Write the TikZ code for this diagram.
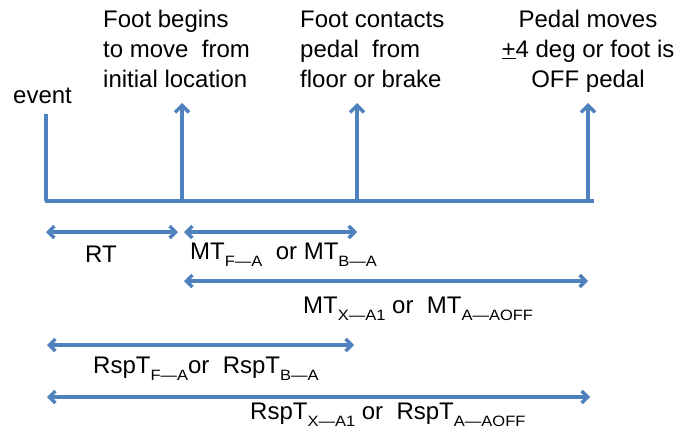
\documentclass[tikz,border=0pt]{standalone}
\usepackage{fontspec}
\usepackage{graphicx}
\setmainfont{Liberation Sans}
\usetikzlibrary{arrows.meta}

\definecolor{lineblue}{RGB}{79,129,189}

% lowered, smaller index text (e.g. MT with F—A below)
\newcommand{\lowidx}[1]{\raisebox{-7pt}{\fontsize{15}{15}\selectfont\scalebox{1.1}[1]{#1}}}

\begin{document}
\begin{tikzpicture}[x=1pt,y=-1pt,
  tline/.style={draw=lineblue,line width=3.2pt},
  uparrow/.style={tline,-{Straight Barb[length=7pt,width=14pt,line width=3.4pt]}},
  span/.style={tline,{Straight Barb[length=6pt,width=12pt,line width=3.4pt]}-{Straight Barb[length=6pt,width=12pt,line width=3.4pt]}},
  lbl/.style={inner sep=0pt,font=\fontsize{24}{30}\selectfont},
  block/.style={lbl,align=left,anchor=base west}]
\useasboundingbox (0,0) rectangle (680,431);

% time axis and event markers
\coordinate (a0) at (45,201);
\coordinate (a1) at (594,201);
\coordinate (ev0) at (46,201);
\coordinate (ev1) at (46,114);
\coordinate (m1) at (182,201);
\coordinate (m1t) at (182,103);
\coordinate (m2) at (357,201);
\coordinate (m2t) at (357,103);
\coordinate (m3) at (588,201);
\coordinate (m3t) at (588,103);

\draw[tline] (a0) -- (a1);
\draw[tline] (ev0) -- (ev1);
\draw[uparrow] (m1) -- (m1t);
\draw[uparrow] (m2) -- (m2t);
\draw[uparrow] (m3) -- (m3t);

% event descriptions (anchored at the baseline of their last line)
\node[lbl,anchor=base west] (tEvent) at (13,103) {event};
\node[block] (tBegin) at (103,87) {Foot begins\\to move\ \ from\\initial location};
\node[block] (tContact) at (300,87) {Foot contacts\\pedal\ \ from\\floor or brake};
\node[lbl,align=center,anchor=base] (tPedal) at (588,87) {Pedal moves\\\underline{+}4 deg or foot is\\OFF pedal};

% interval spans
\coordinate (rtA) at (46,232);  \coordinate (rtB) at (178,232);
\coordinate (mtA) at (184,232); \coordinate (mtB) at (357,232);
\coordinate (mxA) at (184,281); \coordinate (mxB) at (588,281);
\coordinate (rsA) at (47,345);  \coordinate (rsB) at (354,345);
\coordinate (rxA) at (47,397);  \coordinate (rxB) at (590,397);

\draw[span] (rtA) -- (rtB);
\draw[span] (mtA) -- (mtB);
\draw[span] (mxA) -- (mxB);
\draw[span] (rsA) -- (rsB);
\draw[span] (rxA) -- (rxB);

\node[lbl,anchor=base west] (lRT) at (85,262) {RT};
\node[lbl,anchor=base west] (lMTa) at (190,259) {MT\lowidx{F—A}\ \ or MT\lowidx{B—A}};
\node[lbl,anchor=base west] (lMTb) at (303,313) {MT\lowidx{X—A1} or\ \ MT\lowidx{A—AOFF}};
\node[lbl,anchor=base west] (lRSa) at (93,373) {RspT\lowidx{F—A}or\ \ RspT\lowidx{B—A}};
\node[lbl,anchor=base west] (lRSb) at (250,419) {RspT\lowidx{X—A1} or\ \ RspT\lowidx{A—AOFF}};
\end{tikzpicture}
\end{document}
